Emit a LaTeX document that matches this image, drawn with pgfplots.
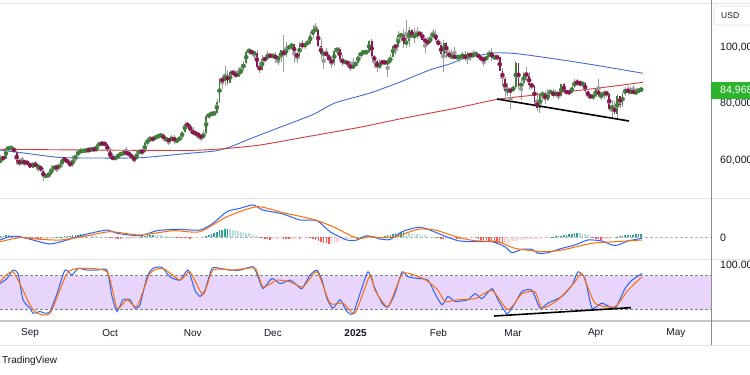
\documentclass[border=0pt]{standalone}
\usepackage{fontspec}
\setmainfont{Liberation Sans}
\usepackage{pgfplots}
\usepackage{pgfplotstable}
\pgfplotsset{compat=1.18}

\definecolor{upc}{RGB}{60,128,56}
\definecolor{dnc}{RGB}{136,24,76}
\definecolor{wickc}{RGB}{155,155,155}
\definecolor{mablue}{RGB}{66,110,210}
\definecolor{mared}{RGB}{210,60,60}
\definecolor{tvblue}{RGB}{41,98,255}
\definecolor{tvorange}{RGB}{255,109,0}
\definecolor{hdk}{RGB}{38,166,154}
\definecolor{hlt}{RGB}{178,223,219}
\definecolor{hrd}{RGB}{255,82,82}
\definecolor{hlr}{RGB}{255,205,210}
\definecolor{band}{RGB}{232,213,251}
\definecolor{sepc}{RGB}{224,227,235}
\definecolor{txt}{RGB}{19,23,34}
\definecolor{pricebox}{RGB}{44,180,44}

% daily BTC candles, d = days from 1 Sep 2024, prices in thousands USD
\pgfplotstableread{
d o h l c
-11 59.0 61.8 58.8 61.1
-10 61.1 61.4 59.8 60.4
-9 60.4 64.9 60.3 64.1
-8 64.1 64.5 63.6 64.2
-7 64.2 65.0 63.8 64.2
-6 64.2 64.5 62.7 62.8
-5 62.8 63.2 58.1 59.4
-4 59.4 60.2 57.9 59.0
-3 59.0 61.2 58.8 59.4
-2 59.4 59.9 57.8 59.1
-1 59.1 59.4 58.7 58.9
0 58.9 59.0 57.2 57.3
1 57.3 59.4 57.1 59.1
2 59.1 59.8 57.4 57.5
3 57.5 58.5 55.6 57.9
4 57.9 58.3 55.7 56.2
5 56.2 57.0 52.6 53.9
6 53.9 54.9 53.8 54.8
7 54.8 55.3 53.7 54.9
8 54.9 58.1 54.6 57.0
9 57.0 58.0 56.4 57.6
10 57.6 57.9 55.6 57.3
11 57.3 58.6 57.3 58.1
12 58.1 60.6 57.6 60.5
13 60.5 60.6 59.5 60.0
14 60.0 60.4 58.7 59.1
15 59.1 59.2 57.5 58.2
16 58.2 61.3 57.6 60.3
17 60.3 61.8 59.2 61.7
18 61.7 63.8 61.6 62.9
19 62.9 64.1 62.4 63.2
20 63.2 63.6 62.8 63.3
21 63.3 64.0 62.4 63.6
22 63.6 64.7 62.7 63.3
23 63.3 64.6 62.7 64.3
24 64.3 64.8 62.9 63.2
25 63.2 65.8 62.7 65.2
26 65.2 66.5 64.8 65.9
27 65.9 66.3 65.4 65.8
28 65.8 66.1 65.4 65.6
29 65.6 65.6 62.9 63.3
30 63.3 64.1 60.2 60.8
31 60.8 62.4 59.9 60.6
32 60.6 61.5 59.9 60.7
33 60.7 62.5 60.5 62.1
34 62.1 62.4 61.7 62.1
35 62.1 62.9 61.8 62.8
36 62.8 64.5 62.1 62.2
37 62.2 63.2 61.8 62.1
38 62.1 62.5 60.3 60.6
39 60.6 61.3 58.9 60.3
40 60.3 63.4 60.0 62.5
41 62.5 63.5 62.4 63.2
42 63.2 63.3 62.0 62.9
43 62.9 66.5 62.4 66.1
44 66.1 67.9 64.8 67.0
45 67.0 68.4 66.8 67.6
46 67.6 67.9 66.7 67.4
47 67.4 68.9 67.1 68.4
48 68.4 68.7 68.0 68.4
49 68.4 69.4 68.1 69.0
50 69.0 69.5 66.6 67.4
51 67.4 67.8 66.6 67.4
52 67.4 67.5 65.3 66.7
53 66.7 68.8 66.6 68.2
54 68.2 68.8 65.5 66.6
55 66.6 67.4 66.5 67.0
56 67.0 68.3 66.8 68.0
57 68.0 70.2 67.6 69.9
58 69.9 73.6 69.7 72.7
59 72.7 72.9 71.5 72.3
60 72.3 72.7 69.7 70.2
61 70.2 71.6 68.8 69.5
62 69.5 70.0 69.1 69.3
63 69.3 69.4 67.5 68.7
64 68.7 69.0 66.8 67.8
65 67.8 70.5 67.5 69.4
66 69.4 76.4 69.3 75.6
67 75.6 76.9 74.6 75.9
68 75.9 77.2 75.6 76.5
69 76.5 76.8 75.8 76.7
70 76.7 81.5 76.5 80.4
71 80.4 89.0 80.2 88.7
72 88.7 89.9 85.1 87.9
73 87.9 93.4 86.2 90.5
74 90.5 91.8 86.7 87.3
75 87.3 91.8 87.1 91.1
76 91.1 91.9 90.1 90.6
77 90.6 91.7 88.9 89.8
78 89.8 92.6 89.4 90.5
79 90.5 94.0 90.4 92.3
80 92.3 94.9 91.6 94.3
81 94.3 98.9 94.1 98.4
82 98.4 99.8 97.2 98.9
83 98.9 98.9 97.2 97.7
84 97.7 98.7 95.8 98.0
85 98.0 98.9 92.6 93.0
86 93.0 94.7 90.8 91.9
87 91.9 97.2 91.8 95.9
88 95.9 96.6 94.7 95.6
89 95.6 98.7 95.4 97.5
90 97.5 97.5 96.2 96.4
91 96.4 98.0 95.8 97.2
92 97.2 98.2 94.4 95.9
93 95.9 96.3 93.6 96.0
94 96.0 99.0 94.7 98.8
95 98.8 104.1 91.0 97.0
96 97.0 101.9 96.5 99.9
97 99.9 100.5 99.0 99.9
98 99.9 101.4 98.8 101.2
99 101.2 101.2 94.2 97.4
100 97.4 98.3 94.3 96.7
101 96.7 101.9 95.6 101.2
102 101.2 102.5 99.4 100.0
103 100.0 101.9 99.2 101.4
104 101.4 102.6 100.6 101.4
105 101.4 105.2 101.2 104.3
106 104.3 107.8 103.3 106.1
107 106.1 108.4 105.3 106.1
108 106.1 106.5 100.0 100.2
109 100.2 102.8 95.7 97.5
110 97.5 98.1 92.2 97.8
111 97.8 99.6 96.4 97.2
112 97.2 97.4 94.2 95.1
113 95.1 96.4 92.4 94.7
114 94.7 99.5 93.4 98.7
115 98.7 99.9 97.6 99.4
116 99.4 99.9 95.2 95.8
117 95.8 97.3 93.3 94.2
118 94.2 95.5 94.0 95.2
119 95.2 95.2 93.0 93.6
120 93.6 94.9 91.5 92.6
121 92.6 96.2 92.1 93.4
122 93.4 94.9 92.8 94.4
123 94.4 97.8 94.2 96.9
124 96.9 98.9 96.0 98.1
125 98.1 98.7 97.3 98.2
126 98.2 98.8 97.3 98.3
127 98.3 102.5 97.9 102.1
128 102.1 102.7 96.1 96.9
129 96.9 97.2 92.5 95.0
130 95.0 95.4 91.2 92.5
131 92.5 95.8 92.2 94.7
132 94.7 95.0 93.8 94.6
133 94.6 95.4 93.7 94.5
134 94.5 95.9 89.3 94.5
135 94.5 97.4 94.3 96.5
136 96.5 100.7 96.5 100.5
137 100.5 100.9 97.3 99.9
138 99.9 105.8 99.9 104.1
139 104.1 104.9 102.3 104.4
140 104.4 106.3 99.6 101.1
141 101.1 109.6 99.5 102.0
142 102.0 107.0 100.1 106.1
143 106.1 106.3 103.3 103.7
144 103.7 106.8 101.3 103.9
145 103.9 107.1 102.8 104.8
146 104.8 105.3 104.1 104.7
147 104.7 105.4 102.5 102.6
148 102.6 103.2 97.8 102.0
149 102.0 103.7 100.3 101.3
150 101.3 104.8 101.3 103.7
151 103.7 106.4 103.3 104.7
152 104.7 106.0 101.6 102.4
153 102.4 102.8 100.3 100.6
154 100.6 101.5 96.2 97.7
155 97.7 102.5 91.2 101.4
156 101.4 101.7 96.2 97.9
157 97.9 99.0 96.2 96.6
158 96.6 99.2 95.7 96.6
159 96.6 100.1 95.7 96.5
160 96.5 96.9 95.7 96.5
161 96.5 97.3 94.7 96.5
162 96.5 98.3 95.3 97.4
163 97.4 98.5 94.9 95.7
164 95.7 98.1 94.1 97.8
165 97.8 98.0 95.2 96.6
166 96.6 98.8 96.3 97.5
167 97.5 97.9 97.3 97.6
168 97.6 97.7 96.0 96.1
169 96.1 97.0 95.2 95.8
170 95.8 96.0 93.4 95.5
171 95.5 96.9 95.3 96.6
172 96.6 98.8 96.4 98.3
173 98.3 99.5 94.9 96.1
174 96.1 96.9 95.8 96.6
175 96.6 96.7 95.3 96.3
176 96.3 96.5 91.4 91.5
177 91.5 92.5 86.1 88.7
178 88.7 89.3 82.3 84.3
179 84.3 87.1 82.8 84.7
180 84.7 85.1 78.2 84.4
181 84.4 86.6 83.9 86.0
182 86.0 95.0 85.0 94.3
183 94.3 94.4 85.1 86.1
184 86.1 88.9 81.4 87.2
185 87.2 91.0 86.3 90.6
186 90.6 92.8 87.8 89.9
187 89.9 91.3 84.7 86.7
188 86.7 86.9 85.3 86.2
189 86.2 86.5 80.0 80.7
190 80.7 83.9 77.5 78.5
191 78.5 83.6 76.6 82.9
192 82.9 84.4 80.6 83.7
193 83.7 84.3 79.9 81.1
194 81.1 85.3 80.8 83.9
195 83.9 84.7 83.6 84.3
196 84.3 85.0 82.0 82.6
197 82.6 84.8 82.5 84.1
198 84.1 84.1 81.1 82.7
199 82.7 87.0 82.6 86.8
200 86.8 87.4 83.7 84.2
201 84.2 84.8 83.2 84.0
202 84.0 84.5 83.7 83.8
203 83.8 86.1 83.8 86.0
204 86.0 88.8 85.5 87.5
205 87.5 88.5 86.3 87.4
206 87.4 88.3 85.9 86.9
207 86.9 87.8 85.8 87.2
208 87.2 87.5 83.6 84.4
209 84.4 84.6 81.6 82.6
210 82.6 83.5 81.6 82.4
211 82.4 83.9 81.3 82.5
212 82.5 85.5 82.4 85.2
213 85.2 88.5 82.3 82.5
214 82.5 83.9 81.2 83.1
215 83.1 84.7 81.7 83.8
216 83.8 84.2 82.4 83.5
217 83.5 83.8 77.2 78.2
218 78.2 81.2 74.5 79.2
219 79.2 80.8 76.2 76.3
220 76.3 83.5 74.6 82.6
221 82.6 82.7 78.5 79.6
222 79.6 84.2 78.9 83.4
223 83.4 85.9 82.8 85.3
224 85.3 86.1 83.0 83.7
225 83.7 85.8 83.7 84.5
226 84.5 86.4 83.6 83.7
227 83.7 85.4 83.2 84.0
228 84.0 85.5 83.9 84.9
229 84.9 85.1 84.7 85.0
}\ohlc

% MACD histogram (pane pixels), k: 1 rising>0, 2 falling>0, 3 falling<0, 4 rising<0
\pgfplotstableread[row sep=\\]{
d h k\\
-11 1 1\\ -10 1.5 1\\ -9 2 1\\ -8 2.2 1\\ -7 1.8 2\\ -6 1.2 2\\ -5 0.5 2\\ -4 -0.3 3\\ -3 -0.5 3\\ -2 -0.6 3\\
-1 -0.8 3\\ 0 -1 3\\ 1 -1.3 3\\ 2 -1.6 3\\ 3 -2 3\\ 4 -2.2 3\\ 5 -2 4\\ 6 -1.5 4\\ 7 -1 4\\ 8 -0.6 4\\
9 -0.3 4\\ 10 0.2 1\\ 11 0.4 1\\ 12 0.8 1\\ 13 1 1\\ 14 1.3 1\\ 15 1.6 1\\ 16 2 1\\ 17 2.4 1\\ 18 2.8 1\\
19 3 1\\ 20 3.1 1\\ 21 2.8 2\\ 22 2.5 2\\ 23 2.2 2\\ 24 1.8 2\\ 25 1.5 2\\ 26 1 2\\ 27 0.6 2\\ 28 0.3 2\\
29 0.1 2\\ 30 -0.5 3\\ 31 -1 3\\ 32 -1.5 3\\ 33 -1.8 3\\ 34 -2 3\\ 35 -2 4\\ 36 -1.8 4\\ 37 -1.5 4\\ 38 -1.2 4\\
39 -0.8 4\\ 40 -0.3 4\\ 41 0.5 1\\ 42 1 1\\ 43 1.6 1\\ 44 2.2 1\\ 45 2.6 1\\ 46 2.7 1\\ 47 2.6 2\\ 48 2.3 2\\
49 2 2\\ 50 1.6 2\\ 51 1.2 2\\ 52 0.8 2\\ 53 0.5 2\\ 54 0.2 2\\ 55 -0.2 3\\ 56 -0.4 3\\ 57 -0.6 3\\ 58 -0.8 3\\
59 -1 3\\ 60 -1.1 3\\ 61 -1 4\\ 62 -0.9 4\\ 63 -0.8 4\\ 64 -0.5 4\\ 65 -0.2 4\\ 66 1 1\\ 67 2 1\\ 68 3 1\\
69 4.2 1\\ 70 5.5 1\\ 71 7 1\\ 72 7.8 1\\ 73 8.3 1\\ 74 8.5 1\\ 75 8 2\\ 76 7.5 2\\ 77 7 2\\ 78 6.3 2\\
79 5.6 2\\ 80 5 2\\ 81 4.5 2\\ 82 4 2\\ 83 3.2 2\\ 84 2.4 2\\ 85 1.2 2\\ 86 -0.5 3\\ 87 -1 3\\ 88 -1.5 3\\
89 -2 3\\ 90 -2.2 3\\ 91 -2 4\\ 92 -1.6 4\\ 93 -1.2 4\\ 94 -1 4\\ 95 -1.4 3\\ 96 -1.8 3\\ 97 -2 3\\ 98 -1.6 4\\
99 -1.2 4\\ 100 -1 4\\ 101 -1.3 3\\ 102 -1 4\\ 103 -0.7 4\\ 104 -0.6 4\\ 105 -1 3\\ 106 -2 3\\ 107 -3 3\\ 108 -4 3\\
109 -5 3\\ 110 -5.5 3\\ 111 -6 3\\ 112 -6.2 3\\ 113 -5.8 4\\ 114 -5.2 4\\ 115 -4.6 4\\ 116 -4 4\\ 117 -3.2 4\\ 118 -2.6 4\\
119 -2 4\\ 120 -1.5 4\\ 121 -1 4\\ 122 -0.5 4\\ 123 0.2 1\\ 124 0.6 1\\ 125 1 1\\ 126 1.5 1\\ 127 1.8 1\\ 128 1.5 2\\
129 1 2\\ 130 0.6 2\\ 131 0.5 2\\ 132 0.8 1\\ 133 1.3 1\\ 134 2 1\\ 135 2.8 1\\ 136 3.5 1\\ 137 4.2 1\\ 138 4.8 1\\
139 5.2 1\\ 140 5.3 1\\ 141 5 2\\ 142 4.6 2\\ 143 4.2 2\\ 144 3.8 2\\ 145 3.4 2\\ 146 3 2\\ 147 2.5 2\\ 148 2 2\\
149 1.4 2\\ 150 0.8 2\\ 151 0.2 2\\ 152 -0.5 3\\ 153 -1 3\\ 154 -1.6 3\\ 155 -2 3\\ 156 -1.8 4\\ 157 -1.5 4\\ 158 -1.2 4\\
159 -1.1 4\\ 160 -1.2 3\\ 161 -1.5 3\\ 162 -1.4 4\\ 163 -1.2 4\\ 164 -0.9 4\\ 165 -0.7 4\\ 166 -0.6 4\\ 167 -1 3\\ 168 -1.6 3\\
169 -2.2 3\\ 170 -2.6 3\\ 171 -3 3\\ 172 -3.4 3\\ 173 -4 3\\ 174 -4.8 3\\ 175 -5.5 3\\ 176 -6 3\\ 177 -6.5 3\\ 178 -5.8 4\\
179 -5.2 4\\ 180 -4.6 4\\ 181 -4 4\\ 182 -3.2 4\\ 183 -3 4\\ 184 -2.8 4\\ 185 -2.4 4\\ 186 -2.2 4\\ 187 -2 4\\ 188 -1.8 4\\
189 -1.6 4\\ 190 -1.5 4\\ 191 -1.2 4\\ 192 -0.9 4\\ 193 -0.6 4\\ 194 -0.3 4\\ 195 0.3 1\\ 196 0.6 1\\ 197 1 1\\ 198 1.2 1\\
199 1.6 1\\ 200 2 1\\ 201 2.5 1\\ 202 3 1\\ 203 3.5 1\\ 204 4 1\\ 205 4.2 1\\ 206 4 2\\ 207 3.5 2\\ 208 3 2\\
209 2.2 2\\ 210 -0.5 3\\ 211 -1 3\\ 212 -1.5 3\\ 213 -2 3\\ 214 -2.1 3\\ 215 -2 4\\ 216 -1.6 4\\ 217 -1.2 4\\ 218 -1 4\\
219 -0.5 4\\ 220 0.5 1\\ 221 1 1\\ 222 1.5 1\\ 223 2 1\\ 224 2.4 1\\ 225 2.7 1\\ 226 2.9 1\\ 227 3 1\\ 228 3.2 1\\
229 3.4 1\\
}\hist

\pgfplotsset{pane/.style={scale only axis, width=711pt, xmin=0, xmax=711, hide axis, anchor=south west}}

\begin{document}
\begin{tikzpicture}[font=\fontsize{10}{12}\selectfont]
\fill[white] (0pt,0pt) rectangle (750pt,375pt);
% pane separators
\draw[sepc, line width=0.8pt] (0pt,372pt) -- (750pt,372pt);
\draw[sepc, line width=0.8pt] (0pt,177pt) -- (750pt,177pt);
\draw[sepc, line width=0.8pt] (0pt,116pt) -- (750pt,116pt);
\draw[black!22, line width=1.6pt] (0pt,54pt) -- (750pt,54pt);
\draw[sepc, line width=0.8pt] (0pt,30pt) -- (750pt,30pt);
\draw[black!45, line width=0.8pt] (711pt,375pt) -- (711pt,30pt);

% ---------- price pane ----------
\begin{axis}[pane, at={(0pt,177pt)}, height=195pt, ymin=46.55, ymax=115.58]
\addplot[color=wickc, only marks, mark=none, error bars/.cd, y dir=both, y explicit, error mark=none,
  error bar style={line width=0.6pt, draw=wickc}]
  table[x expr=30+2.669*\thisrow{d}, y expr=(\thisrow{h}+\thisrow{l})/2, y error expr=(\thisrow{h}-\thisrow{l})/2] {\ohlc};
\addplot[color=upc, only marks, mark=none, error bars/.cd, y dir=both, y explicit, error mark=none,
  error bar style={line width=1.8pt, draw=upc}]
  table[x expr=30+2.669*\thisrow{d}, y expr=(\thisrow{o}+\thisrow{c})/2, y error expr={max(abs(\thisrow{c}-\thisrow{o})/2,0.18)},
  restrict expr to domain={\thisrow{c}-\thisrow{o}}{0:100}] {\ohlc};
\addplot[color=dnc, only marks, mark=none, error bars/.cd, y dir=both, y explicit, error mark=none,
  error bar style={line width=1.8pt, draw=dnc}]
  table[x expr=30+2.669*\thisrow{d}, y expr=(\thisrow{o}+\thisrow{c})/2, y error expr={max(abs(\thisrow{c}-\thisrow{o})/2,0.18)},
  restrict expr to domain={\thisrow{c}-\thisrow{o}}{-100:-0.0001}] {\ohlc};
% moving averages
\addplot[mablue, line width=0.9pt, smooth, tension=0.4] coordinates {(0,63.5) (23,62.5) (60,60.9) (100,60.7) (140,60.8) (190,62.4) (215,63.2) (230,64.6) (250,67.5) (280,71.6) (313,76.1) (335,80.2) (370,83.7) (400,87.6) (430,91.9) (450,94.0) (465,96.1) (495,97.9) (515,97.7) (535,96.8) (570,95.0) (600,93.3) (643,90.7)};
\addplot[mared, line width=0.9pt, smooth, tension=0.4] coordinates {(0,63.8) (100,63.5) (190,63.4) (227,64.1) (260,65.3) (300,67.8) (360,71.6) (398,74.4) (455,78.3) (498,81.5) (535,83.0) (590,85.1) (643,87.5)};
% support line
\addplot[black, line width=1.6pt] coordinates {(497,81.6) (629,73.8)};
\end{axis}

% ---------- MACD pane ----------
\begin{axis}[pane, at={(0pt,116pt)}, height=61pt, ymin=-21.5, ymax=39.5]
\addplot[black!30, line width=0.6pt, dash pattern=on 2.5pt off 2.5pt] coordinates {(0,0) (711,0)};
\addplot[ycomb, hdk, line width=1.5pt] table[x expr=30+2.669*\thisrow{d}, y=h, restrict expr to domain={\thisrow{k}}{1:1}] {\hist};
\addplot[ycomb, hlt, line width=1.5pt] table[x expr=30+2.669*\thisrow{d}, y=h, restrict expr to domain={\thisrow{k}}{2:2}] {\hist};
\addplot[ycomb, hrd, line width=1.5pt] table[x expr=30+2.669*\thisrow{d}, y=h, restrict expr to domain={\thisrow{k}}{3:3}] {\hist};
\addplot[ycomb, hlr, line width=1.5pt] table[x expr=30+2.669*\thisrow{d}, y=h, restrict expr to domain={\thisrow{k}}{4:4}] {\hist};
% MACD line
\addplot[tvblue, line width=1pt, smooth, tension=0.4] coordinates {(0,-2.5) (10,0.8) (20,0.8) (33,-2.5) (50,-6.5) (67,-2.5) (83,2.5) (107,7.5) (117,4.2) (140,1.8) (157,6.8) (177,8.2) (200,7.5) (213,14.2) (227,25.8) (240,29.2) (253,32.5) (263,27.5) (283,23.5) (300,17.5) (317,16.8) (330,5.8) (347,-2.5) (357,-2.5) (365,1.5) (372,1.0) (380,-1.5) (390,-2.0) (402,5.8) (418,10.2) (428,8.2) (442,2.5) (458,-3.2) (475,-4.2) (492,-4.2) (505,-9.2) (512,-15.2) (522,-11.8) (532,-11.8) (538,-15.8) (548,-15.2) (562,-10.8) (575,-7.5) (588,-2.5) (602,-3.5) (612,-7.5) (618,-7.5) (628,-3.5) (642,-0.8)};
% signal line
\addplot[tvorange, line width=1pt, smooth, tension=0.4] coordinates {(0,-4.2) (20,-0.2) (40,-1.8) (60,-2.5) (83,0.8) (110,5.8) (140,2.5) (173,6.8) (200,5.8) (227,20.8) (257,30.8) (283,24.8) (313,18.2) (333,10.8) (357,-0.8) (370,0.8) (380,-0.2) (395,0.8) (418,8.2) (435,7.5) (458,0.2) (475,-3.2) (498,-4.2) (515,-10.8) (542,-14.2) (562,-12.5) (592,-5.8) (615,-4.2) (642,-2.5)};
\end{axis}

% ---------- Stochastic RSI pane ----------
\begin{axis}[pane, at={(0pt,54pt)}, height=62pt, ymin=-0.9, ymax=109.8]
\addplot[fill=band, draw=none] coordinates {(0,20) (711,20) (711,80) (0,80)} -- cycle;
\addplot[black!50, line width=0.6pt, dash pattern=on 2.5pt off 2.5pt] coordinates {(0,80) (711,80)};
\addplot[black!50, line width=0.6pt, dash pattern=on 2.5pt off 2.5pt] coordinates {(0,20) (711,20)};
\addplot[tvblue, line width=1pt, smooth, tension=0.35] coordinates {(0,66) (7,75) (13,90) (18,84) (23,37) (30,22) (33,13) (40,16) (45,13) (50,16) (57,48) (65,90) (72,81) (78,93) (87,90) (97,90) (107,90) (112,43) (117,16) (123,37) (130,37) (135,22) (140,28) (147,78) (153,93) (162,95) (170,78) (180,72) (188,90) (195,54) (200,43) (205,54) (212,93) (220,93) (230,90) (240,90) (253,96) (258,78) (263,57) (272,75) (280,66) (290,72) (297,63) (302,57) (310,81) (317,90) (322,72) (327,39) (333,22) (340,37) (347,16) (353,12) (360,48) (368,87) (375,57) (382,31) (388,24) (395,48) (402,87) (408,78) (418,75) (428,72) (435,48) (442,28) (448,43) (455,34) (468,37) (475,48) (482,39) (492,57) (498,37) (507,12) (515,31) (522,52) (532,54) (540,22) (548,31) (562,43) (572,63) (578,87) (585,75) (592,22) (602,31) (615,22) (625,57) (632,72) (642,84)};
\addplot[tvorange, line width=1pt, smooth, tension=0.35] coordinates {(0,69) (13,87) (30,28) (37,13) (50,13) (67,84) (80,93) (107,87) (117,22) (127,37) (137,25) (150,84) (163,93) (180,72) (190,87) (203,46) (213,90) (233,90) (255,93) (263,60) (277,72) (290,69) (303,60) (317,87) (330,31) (343,31) (355,13) (370,81) (375,54) (388,25) (403,84) (425,73) (438,54) (445,34) (458,37) (475,39) (492,54) (508,19) (522,48) (535,51) (542,22) (558,37) (575,69) (582,84) (595,31) (615,25) (628,54) (642,78)};
\addplot[black, line width=1.6pt] coordinates {(494,8.0) (631,22.9)};
\end{axis}

% ---------- scale labels ----------
\draw[sepc, fill=white, rounded corners=3pt, line width=0.8pt] (714pt,350pt) rectangle (770pt,369pt);
\node[anchor=west, inner sep=0pt, txt, font=\fontsize{8.5}{10}\selectfont] at (721pt,359.5pt) {USD};
\begin{scope}[font=\fontsize{10.6}{12}\selectfont]
\node[anchor=west, inner sep=0pt, txt] at (720pt,328pt) {100,000};
\node[anchor=west, inner sep=0pt, txt] at (720pt,271.5pt) {80,000};
\node[anchor=west, inner sep=0pt, txt] at (720pt,215pt) {60,000};
\fill[pricebox] (711pt,276pt) rectangle (760pt,293pt);
\node[anchor=west, inner sep=0pt, white] at (720pt,284.5pt) {84,968};
\node[anchor=west, inner sep=0pt, txt] at (720pt,137pt) {0};
\node[anchor=west, inner sep=0pt, txt] at (720pt,110pt) {100.00};
\end{scope}
% time labels
\node[txt] at (30pt,42pt) {Sep};
\node[txt] at (110.1pt,42pt) {Oct};
\node[txt] at (192.8pt,42pt) {Nov};
\node[txt] at (272.9pt,42pt) {Dec};
\node[txt, font=\fontsize{10}{12}\selectfont\bfseries] at (355.6pt,42pt) {2025};
\node[txt] at (438.4pt,42pt) {Feb};
\node[txt] at (513.1pt,42pt) {Mar};
\node[txt] at (595.8pt,42pt) {Apr};
\node[txt] at (675.9pt,42pt) {May};
\node[anchor=west, inner sep=0pt, txt] at (2pt,14pt) {TradingView};
\pgfresetboundingbox
\useasboundingbox (0pt,0pt) rectangle (750pt,375pt);
\end{tikzpicture}
\end{document}
